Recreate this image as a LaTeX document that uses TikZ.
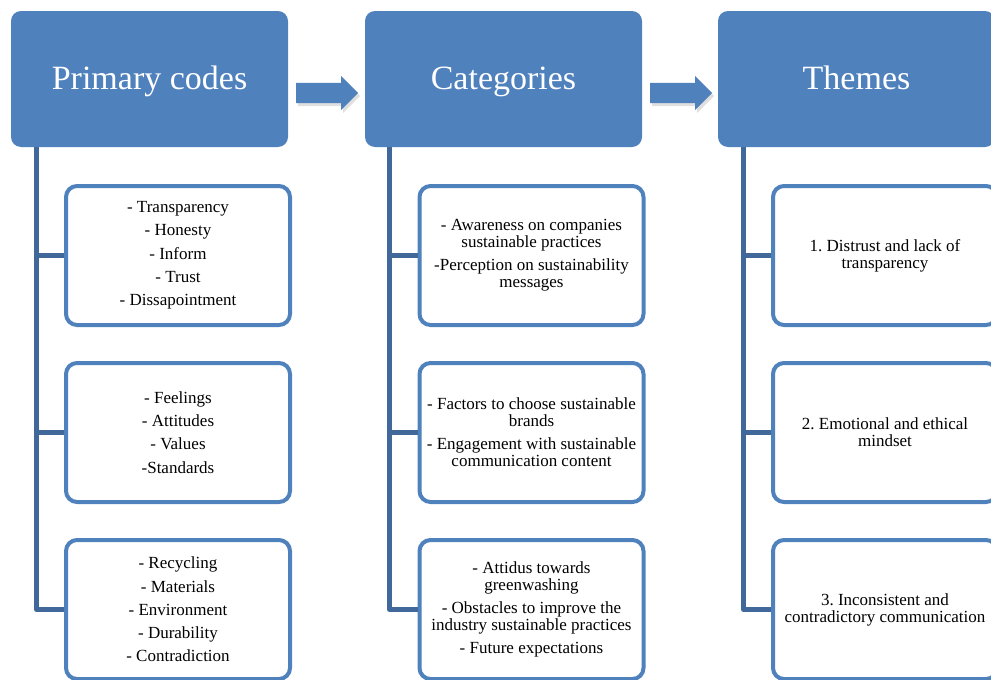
\documentclass[tikz,border=0pt]{standalone}
\usepackage{fontspec}
\setmainfont{Liberation Serif}
\usetikzlibrary{shapes.arrows,shadows}
\definecolor{hdrblue}{HTML}{4F81BD}
\definecolor{trunkblue}{HTML}{41689B}

\begin{document}
\frenchspacing
\begin{tikzpicture}[x=1pt,y=-1pt,
    header/.style={rectangle, rounded corners=10pt, fill=hdrblue, text=white,
        minimum width=277pt, minimum height=136pt, inner sep=0pt,
        text height=26pt, text depth=6pt,
        font=\fontsize{34}{40}\selectfont},
    itembox/.style={rectangle, rounded corners=11pt, draw=hdrblue, line width=4pt,
        fill=white, minimum width=224pt, minimum height=139pt, align=center,
        inner sep=0pt, font=\fontsize{17}{17}\selectfont,
        execute at begin node={\rule{0pt}{20pt}}},
    trunk/.style={draw=trunkblue, line width=5pt, line join=round},
    blockarrow/.style={single arrow, fill=hdrblue, minimum height=62pt, anchor=tail,
        inner xsep=0pt, inner ysep=10pt, single arrow head extend=7pt,
        drop shadow={opacity=0.25, shadow xshift=2pt, shadow yshift=-3pt}}]
    \useasboundingbox (0,0) rectangle (991,680);
    % headers
    \node[header] (h1) at (149.5,79) {Primary codes};
    \node[header] (h2) at (503.5,79) {Categories};
    \node[header] (h3) at (856.5,79) {Themes};
    \node[blockarrow] (a1) at (296,93) {};
    \node[blockarrow] (a2) at (650,93) {};
    % primary codes
    \node[itembox] (c11) at (178,255.5) {- Transparency\\[6.3pt] - Honesty\\[6.3pt] - Inform\\[6.3pt] - Trust\\[6.3pt] - Dissapointment};
    \node[itembox] (c12) at (178,432.5) {- Feelings\\[6.3pt] - Attitudes\\[6.3pt] - Values\\[6.3pt] -Standards};
    \node[itembox] (c13) at (178,609.5) {- Recycling\\[6.3pt] - Materials\\[6.3pt] - Environment\\[6.3pt] - Durability\\[6.3pt] - Contradiction};
    % categories
    \node[itembox] (c21) at (531.5,255.5) {- Awareness on companies\\ sustainable practices\\[6.3pt] -Perception on sustainability\\ messages};
    \node[itembox] (c22) at (531.5,432.5) {- Factors to choose sustainable\\ brands\\[6.3pt] - Engagement with sustainable\\ communication content};
    \node[itembox] (c23) at (531.5,609.5) {- Attidus towards\\ greenwashing\\[6.3pt] - Obstacles to improve the\\ industry sustainable practices\\[6.3pt] - Future expectations};
    % themes
    \node[itembox] (c31) at (885,255.5) {1. Distrust and lack of\\ transparency};
    \node[itembox] (c32) at (885,432.5) {2. Emotional and ethical\\ mindset};
    \node[itembox] (c33) at (885,609.5) {3. Inconsistent and\\ contradictory communication};
    % trunks
    \coordinate (t1) at ([xshift=26pt]h1.south west);
    \coordinate (t2) at ([xshift=25pt]h2.south west);
    \coordinate (t3) at ([xshift=26pt]h3.south west);
    \draw[trunk] (t1) |- (c13.west);
    \draw[trunk] (t1 |- c11.west) -- (c11.west);
    \draw[trunk] (t1 |- c12.west) -- (c12.west);
    \draw[trunk] (t2) |- (c23.west);
    \draw[trunk] (t2 |- c21.west) -- (c21.west);
    \draw[trunk] (t2 |- c22.west) -- (c22.west);
    \draw[trunk] (t3) |- (c33.west);
    \draw[trunk] (t3 |- c31.west) -- (c31.west);
    \draw[trunk] (t3 |- c32.west) -- (c32.west);
\end{tikzpicture}
\end{document}
